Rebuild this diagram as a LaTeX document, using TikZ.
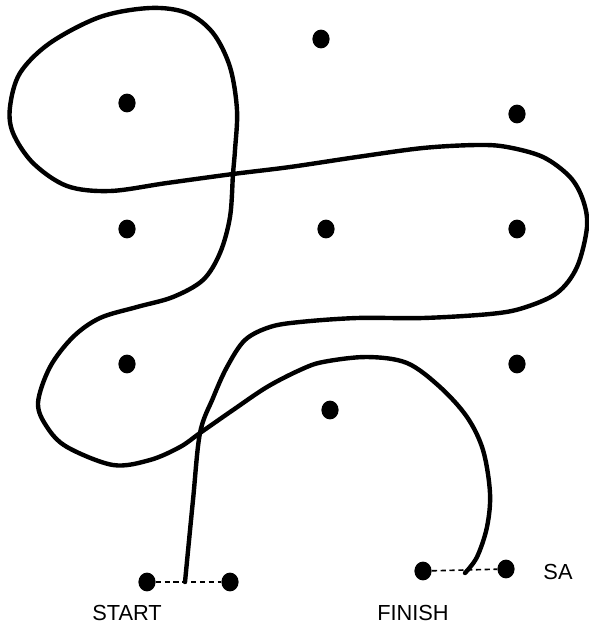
\documentclass[tikz,border=0pt]{standalone}
\usepackage{fontspec}
\setmainfont{Liberation Sans}
\usepackage{tikz}
\usetikzlibrary{positioning, shapes.geometric}

\begin{document}
\begin{tikzpicture}[
            x=0.025cm, y=-0.025cm,
            dot/.style={ellipse, fill=black, inner sep=0pt, minimum width=0.43cm, minimum height=0.47cm},
            curve/.style={line width=0.11cm, line cap=round, line join=round},
            dashline/.style={line width=0.04cm, dash pattern=on 0.13cm off 0.09cm},
            lbl/.style={font=\fontsize{15.5}{18}\selectfont, inner sep=0pt}
        ]
        \useasboundingbox (0,0) rectangle (588,625);

        % dots
        \node[dot] (d1) at (321,39) {};
        \node[dot] (d2) at (127,103) {};
        \node[dot] (d3) at (517,114) {};
        \node[dot] (d4) at (127,229) {};
        \node[dot] (d5) at (326,229) {};
        \node[dot] (d6) at (517,229) {};
        \node[dot] (d7) at (127,364) {};
        \node[dot] (d8) at (517,364) {};
        \node[dot] (d9) at (330,410) {};

        % start / finish
        \node[dot] (s1) at (147,582) {};
        \node[dot] (s2) at (230,582) {};
        \node[dot] (f1) at (423,571) {};
        \node[dot] (f2) at (506,569) {};
        \coordinate (st) at (185,582);
        \coordinate (fi) at (465,573);

        \node[lbl] (start) at (127,613) {START};
        \node[lbl] (finish) at (413,613) {FINISH};
        \node[lbl] (sa) at (558,572) {SA};

        \draw[dashline] (s1) -- (s2);
        \draw[dashline] (f1) -- (f2);

        % path
        \draw[curve] plot[smooth, tension=0.55] coordinates {(st) (193,500) (200,433) (213,398) (227,367) (245,340) (270,327) (300,322) (357,318) (423,318) (490,314) (523,308) (557,293) (577,267) (587,227) (583,200) (570,177) (543,157) (507,147) (477,145) (423,148) (357,157) (290,167) (233,174) (167,183) (110,191) (67,186) (33,163) (13,133) (10,107) (20,73) (50,43) (100,17) (150,8) (187,13) (213,33) (230,67) (237,110) (235,150) (233,174) (230,217) (220,253) (203,280) (173,297) (137,307) (100,318) (73,337) (50,367) (38,403) (47,427) (67,447) (113,465) (150,460) (180,447) (200,433) (233,410) (267,387) (300,370) (323,362) (367,357) (407,363) (440,387) (467,417) (483,450) (490,493) (487,527) (477,557) (fi)};

    \end{tikzpicture}
\end{document}
